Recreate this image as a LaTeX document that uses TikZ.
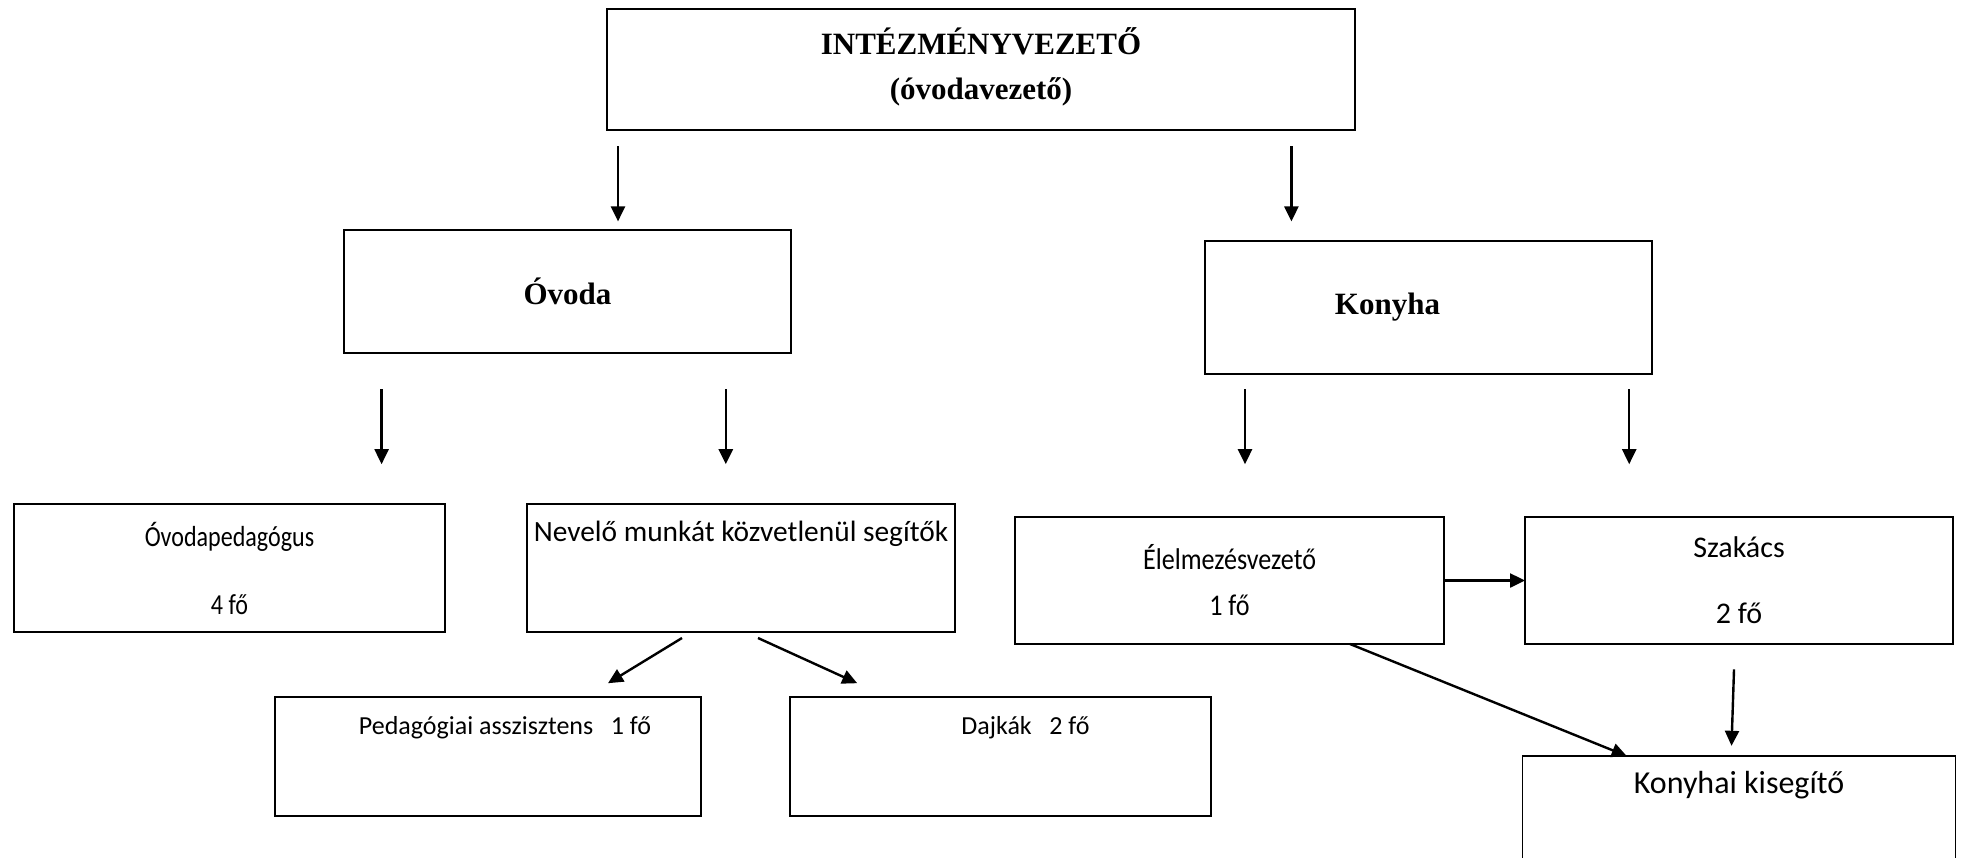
\documentclass[tikz,border=0pt]{standalone}
\usepackage{fontspec}
\setmainfont{Liberation Serif}
\newfontfamily\calibri{Carlito}
\usepackage{tikz}
\usetikzlibrary{arrows.meta}
\usetikzlibrary{positioning}

\begin{document}
\begin{tikzpicture}[%
            head/.style={%
              draw,
              line width=1.3pt,
              align=center,
              inner sep=0pt,
              outer sep=0pt,
              font=\fontsize{15.5}{22.5}\selectfont\bfseries,
            },
            unit/.style={%
              head,
              line width=0.9pt,
            },
            staff/.style={%
              draw,
              line width=1.2pt,
              align=center,
              inner sep=0pt,
              outer sep=0pt,
              font=\calibri\fontsize{#1}{16}\selectfont,
            },
            staff/.default=13,
            topline/.style={%
              inner ysep=0pt,
              text height=18.5pt,
              text depth=#1,
            },
            arr/.style={%
              line width=1.2pt,
              -{Triangle[length=7.5pt,width=7pt]},
            },
          ]
            \useasboundingbox (0,0) rectangle (981pt,-428.5pt);

            \node [%
              head,
              minimum width=374pt,
              minimum height=60.5pt,
              text depth=6pt,
            ] (chief) at (490.5pt,-34.75pt) {INTÉZMÉNYVEZETŐ\\(óvodavezető)};

            \node [%
              unit,
              minimum width=223.5pt,
              minimum height=61.5pt,
            ] (ovoda) at (283.75pt,-145.75pt) {Óvoda};
            \node [%
              unit,
              minimum width=223.5pt,
              minimum height=66.5pt,
            ] (konyha) at (714.25pt,-153.75pt) {Konyha\hspace*{41pt}};

            % ovoda side
            \node [%
              staff=14.5,
              minimum width=215.5pt,
              minimum height=64pt,
            ] (pedagogus) at (114.75pt,-284pt) {\scalebox{0.83}[1]{Óvodapedagógus}\\[18pt]\scalebox{0.83}[1]{4 fő}};
            \node [%
              staff=14.7,
              topline=45.5pt,
              minimum width=214pt,
              right=41pt of pedagogus,
            ] (nevelo) {Nevelő munkát közvetlenül segítők};
            \node [%
              staff=13,
              line width=0.8pt,
              topline=41pt,
              minimum width=213pt,
            ] (asszisztens) at (244pt,-378.25pt) {\hspace*{17pt}Pedagógiai asszisztens\ \ \ 1 fő};
            \node [%
              staff=13,
              line width=0.8pt,
              topline=41pt,
              minimum width=210.5pt,
              right=44.5pt of asszisztens,
            ] (dajka) {\hspace*{25pt}Dajkák\ \ \ 2 fő};

            % konyha side
            \node [%
              staff=15,
              line width=1.3pt,
              minimum width=214.5pt,
              minimum height=63.5pt,
            ] (elelm) at (614.75pt,-290.25pt) {\scalebox{0.87}[1]{Élelmezésvezető}\\[7pt]\scalebox{0.87}[1]{1 fő}};
            \node [%
              staff=15,
              line width=0.6pt,
              minimum width=214pt,
              minimum height=63.5pt,
              right=40.5pt of elelm,
            ] (szakacs) {Szakács\\[17pt]2 fő};
            \node [%
              staff=16,
              line width=0.6pt,
              topline=41.5pt,
              minimum width=216.5pt,
              below=56pt of szakacs,
            ] (kisegito) {Konyhai kisegítő};

            \draw [arr] ([xshift=-181.5pt,yshift=-8.2pt]chief.south) -- ([xshift=25.25pt,yshift=4.3pt]ovoda.north);
            \draw [arr] ([xshift=155.2pt,yshift=-8.2pt]chief.south) -- ([xshift=-68.55pt,yshift=9.8pt]konyha.north);
            \draw [arr] ([xshift=-92.95pt,yshift=-18.1pt]ovoda.south) -- ([xshift=76.05pt,yshift=19.9pt]pedagogus.north);
            \draw [arr] ([xshift=79.15pt,yshift=-18.1pt]ovoda.south) -- ([xshift=-7.6pt,yshift=19.9pt]nevelo.north);
            \draw [arr] ([xshift=-91.75pt,yshift=-7.6pt]konyha.south) -- ([xshift=7.75pt,yshift=26.4pt]elelm.north);
            \draw [arr] ([xshift=100.35pt,yshift=-7.6pt]konyha.south) -- ([xshift=-54.9pt,yshift=26.4pt]szakacs.north);
            \draw [arr] (elelm.east) -- (szakacs.west);
            \draw [arr] ([xshift=-29.5pt,yshift=-3pt]nevelo.south) -- ([xshift=60pt,yshift=6.9pt]asszisztens.north);
            \draw [arr] ([xshift=8.5pt,yshift=-3pt]nevelo.south) -- ([xshift=-71.65pt,yshift=6.9pt]dajka.north);
            \draw [arr] ([xshift=60.25pt]elelm.south) -- ([xshift=-56.15pt]kisegito.north);
            \draw [arr] ([xshift=-2.5pt,yshift=-12.7pt]szakacs.south) -- ([xshift=-3.75pt,yshift=5.1pt]kisegito.north);
          \end{tikzpicture}
\end{document}
